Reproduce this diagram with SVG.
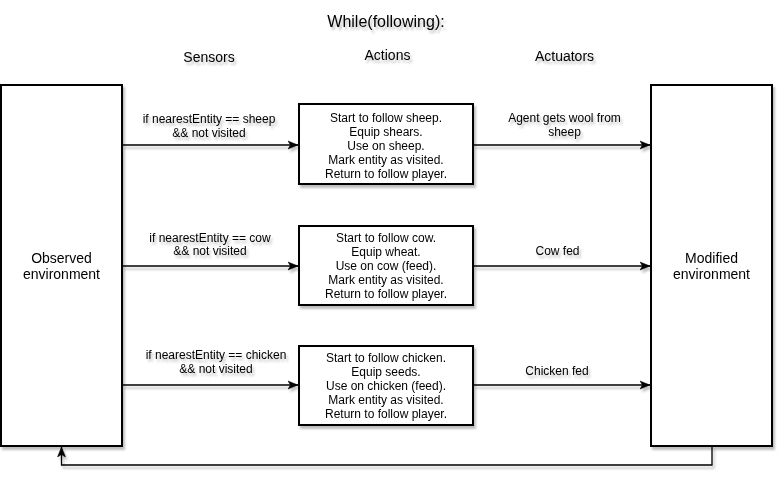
<svg xmlns="http://www.w3.org/2000/svg" width="783" height="485" viewBox="0 0 783 485">
  <style>
    text { font-family: "Liberation Sans", Arial, sans-serif; fill: #000; text-anchor: middle; }
    .t12 { font-size: 12px; }
    .t14 { font-size: 14px; }
    .t16 { font-size: 16px; }
    .box { fill: #fff; stroke: #000; stroke-width: 2; }
    .edge { fill: none; stroke: #000; stroke-width: 1.3; }
  </style>
  <defs>
    <filter id="sh" x="-10%" y="-10%" width="130%" height="130%">
      <feDropShadow dx="2" dy="3" stdDeviation="1.2" flood-color="#000" flood-opacity="0.25"/>
    </filter>
    <marker id="arr" markerWidth="12" markerHeight="10" refX="10" refY="5" orient="auto" markerUnits="userSpaceOnUse">
      <path d="M0,1 L10,5 L0,9 L2.5,5 Z" fill="#000" stroke="#000" stroke-width="0.5"/>
    </marker>
  </defs>
  <rect width="783" height="485" fill="#fff"/>

  <g id="title" filter="url(#sh)">
    <text class="t16" x="386" y="27">While(following):</text>
    <text class="t14" x="209" y="61.5">Sensors</text>
    <text class="t14" x="387.5" y="60">Actions</text>
    <text class="t14" x="564.5" y="61">Actuators</text>
  </g>

  <g id="observed" filter="url(#sh)">
    <rect class="box" x="1" y="85" width="121" height="361"/>
    <text class="t14" x="61.5" y="263">Observed</text>
    <text class="t14" x="61.5" y="279">environment</text>
  </g>

  <g id="modified" filter="url(#sh)">
    <rect class="box" x="651" y="85" width="121" height="361"/>
    <text class="t14" x="711.5" y="263">Modified</text>
    <text class="t14" x="711.5" y="279">environment</text>
  </g>

  <g id="action-sheep" filter="url(#sh)">
    <rect class="box" x="299" y="104" width="174" height="80"/>
    <text class="t12" x="386" y="122.3">Start to follow sheep.</text>
    <text class="t12" x="386" y="136.3">Equip shears.</text>
    <text class="t12" x="386" y="150.3">Use on sheep.</text>
    <text class="t12" x="386" y="164.3">Mark entity as visited.</text>
    <text class="t12" x="386" y="178.3">Return to follow player.</text>
  </g>

  <g id="action-cow" filter="url(#sh)">
    <rect class="box" x="299" y="226" width="174" height="79"/>
    <text class="t12" x="386" y="242">Start to follow cow.</text>
    <text class="t12" x="386" y="256">Equip wheat.</text>
    <text class="t12" x="386" y="270">Use on cow (feed).</text>
    <text class="t12" x="386" y="284">Mark entity as visited.</text>
    <text class="t12" x="386" y="298">Return to follow player.</text>
  </g>

  <g id="action-chicken" filter="url(#sh)">
    <rect class="box" x="299" y="346" width="174" height="79"/>
    <text class="t12" x="386" y="362">Start to follow chicken.</text>
    <text class="t12" x="386" y="376">Equip seeds.</text>
    <text class="t12" x="386" y="390">Use on chicken (feed).</text>
    <text class="t12" x="386" y="404">Mark entity as visited.</text>
    <text class="t12" x="386" y="418">Return to follow player.</text>
  </g>

  <g id="connectors" filter="url(#sh)">
    <path class="edge" d="M122,145 L298,145" marker-end="url(#arr)"/>
    <path class="edge" d="M122,266 L298,266" marker-end="url(#arr)"/>
    <path class="edge" d="M122,385 L298,385" marker-end="url(#arr)"/>
    <path class="edge" d="M473,145 L650,145" marker-end="url(#arr)"/>
    <path class="edge" d="M473,266 L650,266" marker-end="url(#arr)"/>
    <path class="edge" d="M473,385 L650,385" marker-end="url(#arr)"/>
    <path class="edge" d="M712,446 L712,465 L61.5,465 L61.5,447" marker-end="url(#arr)"/>

    <text class="t12" x="209" y="123">if nearestEntity == sheep</text>
    <text class="t12" x="209" y="137">&amp;&amp; not visited</text>
    <text class="t12" x="210" y="241.5">if nearestEntity == cow</text>
    <text class="t12" x="210" y="255">&amp;&amp; not visited</text>
    <text class="t12" x="216" y="358.5">if nearestEntity == chicken</text>
    <text class="t12" x="216" y="372.5">&amp;&amp; not visited</text>
    <text class="t12" x="564.5" y="122">Agent gets wool from</text>
    <text class="t12" x="564.5" y="136">sheep</text>
    <text class="t12" x="557.5" y="254.5">Cow fed</text>
    <text class="t12" x="557" y="375">Chicken fed</text>
  </g>
</svg>
